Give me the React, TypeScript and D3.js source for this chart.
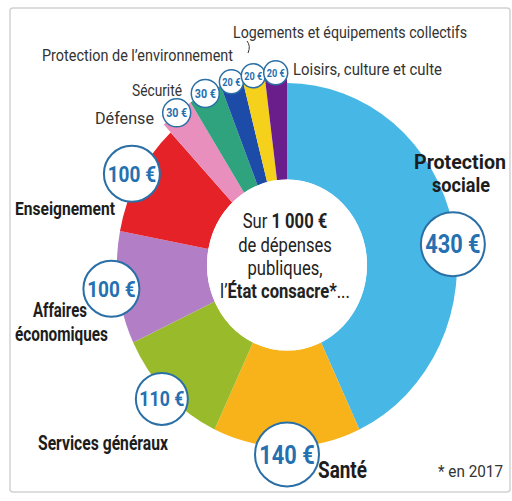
import React from "react";
import * as d3 from "d3";

const categories = [
  "Protection sociale",
  "Santé",
  "Services généraux",
  "Affaires économiques",
  "Enseignement",
  "Défense",
  "Sécurité",
  "Protection de l’environnement",
  "Logements et équipements collectifs",
  "Loisirs, culture et culte",
];
const values = [430, 140, 110, 100, 100, 30, 30, 20, 20, 20];
const amountLabels = ["430 €", "140 €", "110 €", "100 €", "100 €", "30 €", "30 €", "20 €", "20 €", "20 €"];
const centerLines = ["Sur ", "1 000 €", "de dépenses", "publiques,", "l’", "État consacre*", "..."];
const footnote = "* en 2017";

const colors = [
  "#47b8e5",
  "#f8b31b",
  "#99bb2b",
  "#b27fc6",
  "#e62229",
  "#e98fbd",
  "#2fa37d",
  "#1d4ba8",
  "#f5d11c",
  "#6a1e8c",
];

const W = 512;
const H = 501;
const cx = 287;
const cy = 265;
const sy = 1.07;
const rInner = 80;
const FONT = "Roboto, 'Open Sans', 'DejaVu Sans', sans-serif";

type Lbl = { t: string; x: number; y: number; w: number; fs: number; bold?: boolean };

export default function App() {
  const pie = d3.pie<number>().sort(null).startAngle(0).endAngle(2 * Math.PI);
  const arcs = pie(values);
  const outer = (v: number) => (v < 50 ? 180 : 170);
  const arcGen = d3
    .arc<d3.PieArcDatum<number>>()
    .innerRadius(rInner)
    .outerRadius((d) => outer(d.value));
  const badgeR = d3.scaleThreshold<number, number>().domain([25, 50, 105, 120]).range([12, 14, 28, 26, 32]);

  const badges = arcs.map((a, i) => {
    let ang = (a.startAngle + a.endAngle) / 2;
    let r = a.value < 50 ? 180 : 177;
    if (i === 0) {
      ang = (83.3 * Math.PI) / 180;
      r = 167;
    }
    const x = cx + r * Math.sin(ang);
    const y = cy - r * Math.cos(ang) * sy;
    const br = badgeR(a.value);
    return { x, y, br, label: amountLabels[i], small: a.value < 50 };
  });

  const labels: Lbl[] = [
    { t: categories[8], x: 233, y: 38, w: 234, fs: 17 },
    { t: categories[7], x: 42, y: 61, w: 191, fs: 17 },
    { t: categories[6], x: 132, y: 96, w: 50, fs: 17 },
    { t: categories[5], x: 95, y: 124, w: 59, fs: 17 },
    { t: categories[9], x: 293, y: 75, w: 149, fs: 17 },
    { t: "Protection", x: 414, y: 169, w: 92, fs: 21, bold: true },
    { t: "sociale", x: 432, y: 192, w: 58, fs: 21, bold: true },
    { t: categories[4], x: 15, y: 215, w: 100, fs: 19, bold: true },
    { t: "Affaires", x: 33, y: 317, w: 54, fs: 20, bold: true },
    { t: "économiques", x: 15, y: 341, w: 93, fs: 20, bold: true },
    { t: categories[2], x: 38, y: 450, w: 130, fs: 20, bold: true },
    { t: categories[1], x: 318, y: 478, w: 49, fs: 23, bold: true },
    { t: footnote, x: 438, y: 477, w: 65, fs: 16 },
  ];

  const cxText = 285;
  const squeeze = 0.83;

  return (
    <svg
      width={W}
      height={H}
      viewBox={`0 0 ${W} ${H}`}
      style={{ position: "absolute", left: 0, top: 0, background: "#fff" }}
      fontFamily={FONT}
    >
      <rect x={0} y={0} width={W} height={H} fill="#fff" />
      <rect x={10} y={8} width={500} height={484} rx={3} fill="#fff" stroke="#d2d2d2" strokeWidth={1.5} />

      <g transform={`translate(${cx},${cy}) scale(1,${sy})`}>
        {arcs.map((a, i) => (
          <path key={i} d={arcGen(a) || ""} fill={colors[i]} />
        ))}
        <circle r={rInner} fill="#fff" />
      </g>

      {labels.map((l, i) => (
        <text
          key={i}
          x={l.x}
          y={l.y}
          fontSize={l.fs}
          fontWeight={l.bold ? 700 : 400}
          fill={l.bold ? "#1d1d1d" : "#333"}
          textLength={l.w}
          lengthAdjust="spacingAndGlyphs"
        >
          {l.t}
        </text>
      ))}

      <g fill="#222" fontSize={20}>
        <g transform={`translate(${cxText},228) scale(${squeeze},1)`}>
          <text textAnchor="middle">
            {centerLines[0]}
            <tspan fontWeight={700}>{centerLines[1]}</tspan>
          </text>
        </g>
        <g transform={`translate(${cxText},252) scale(${squeeze},1)`}>
          <text textAnchor="middle">{centerLines[2]}</text>
        </g>
        <g transform={`translate(${cxText},275) scale(${squeeze},1)`}>
          <text textAnchor="middle">{centerLines[3]}</text>
        </g>
        <g transform={`translate(${cxText},298) scale(${squeeze},1)`}>
          <text textAnchor="middle">
            {centerLines[4]}
            <tspan fontWeight={700}>{centerLines[5]}</tspan>
            {centerLines[6]}
          </text>
        </g>
      </g>

      <path d="M247,41 q4,5 1,12" fill="none" stroke="#333" strokeWidth={1} />

      {badges.map((b, i) => (
        <g key={i} transform={`translate(${b.x},${b.y})`}>
          <circle r={b.br} fill="#fff" stroke="#2a6fa6" strokeWidth={b.small ? 1.5 : 2} />
          <g transform="scale(0.85,1)">
            <text
              textAnchor="middle"
              dy="0.36em"
              fontSize={b.small ? b.br * 0.9 : b.br * 0.8}
              fontWeight={700}
              fill="#2470b0"
            >
              {b.label}
            </text>
          </g>
        </g>
      ))}
    </svg>
  );
}
